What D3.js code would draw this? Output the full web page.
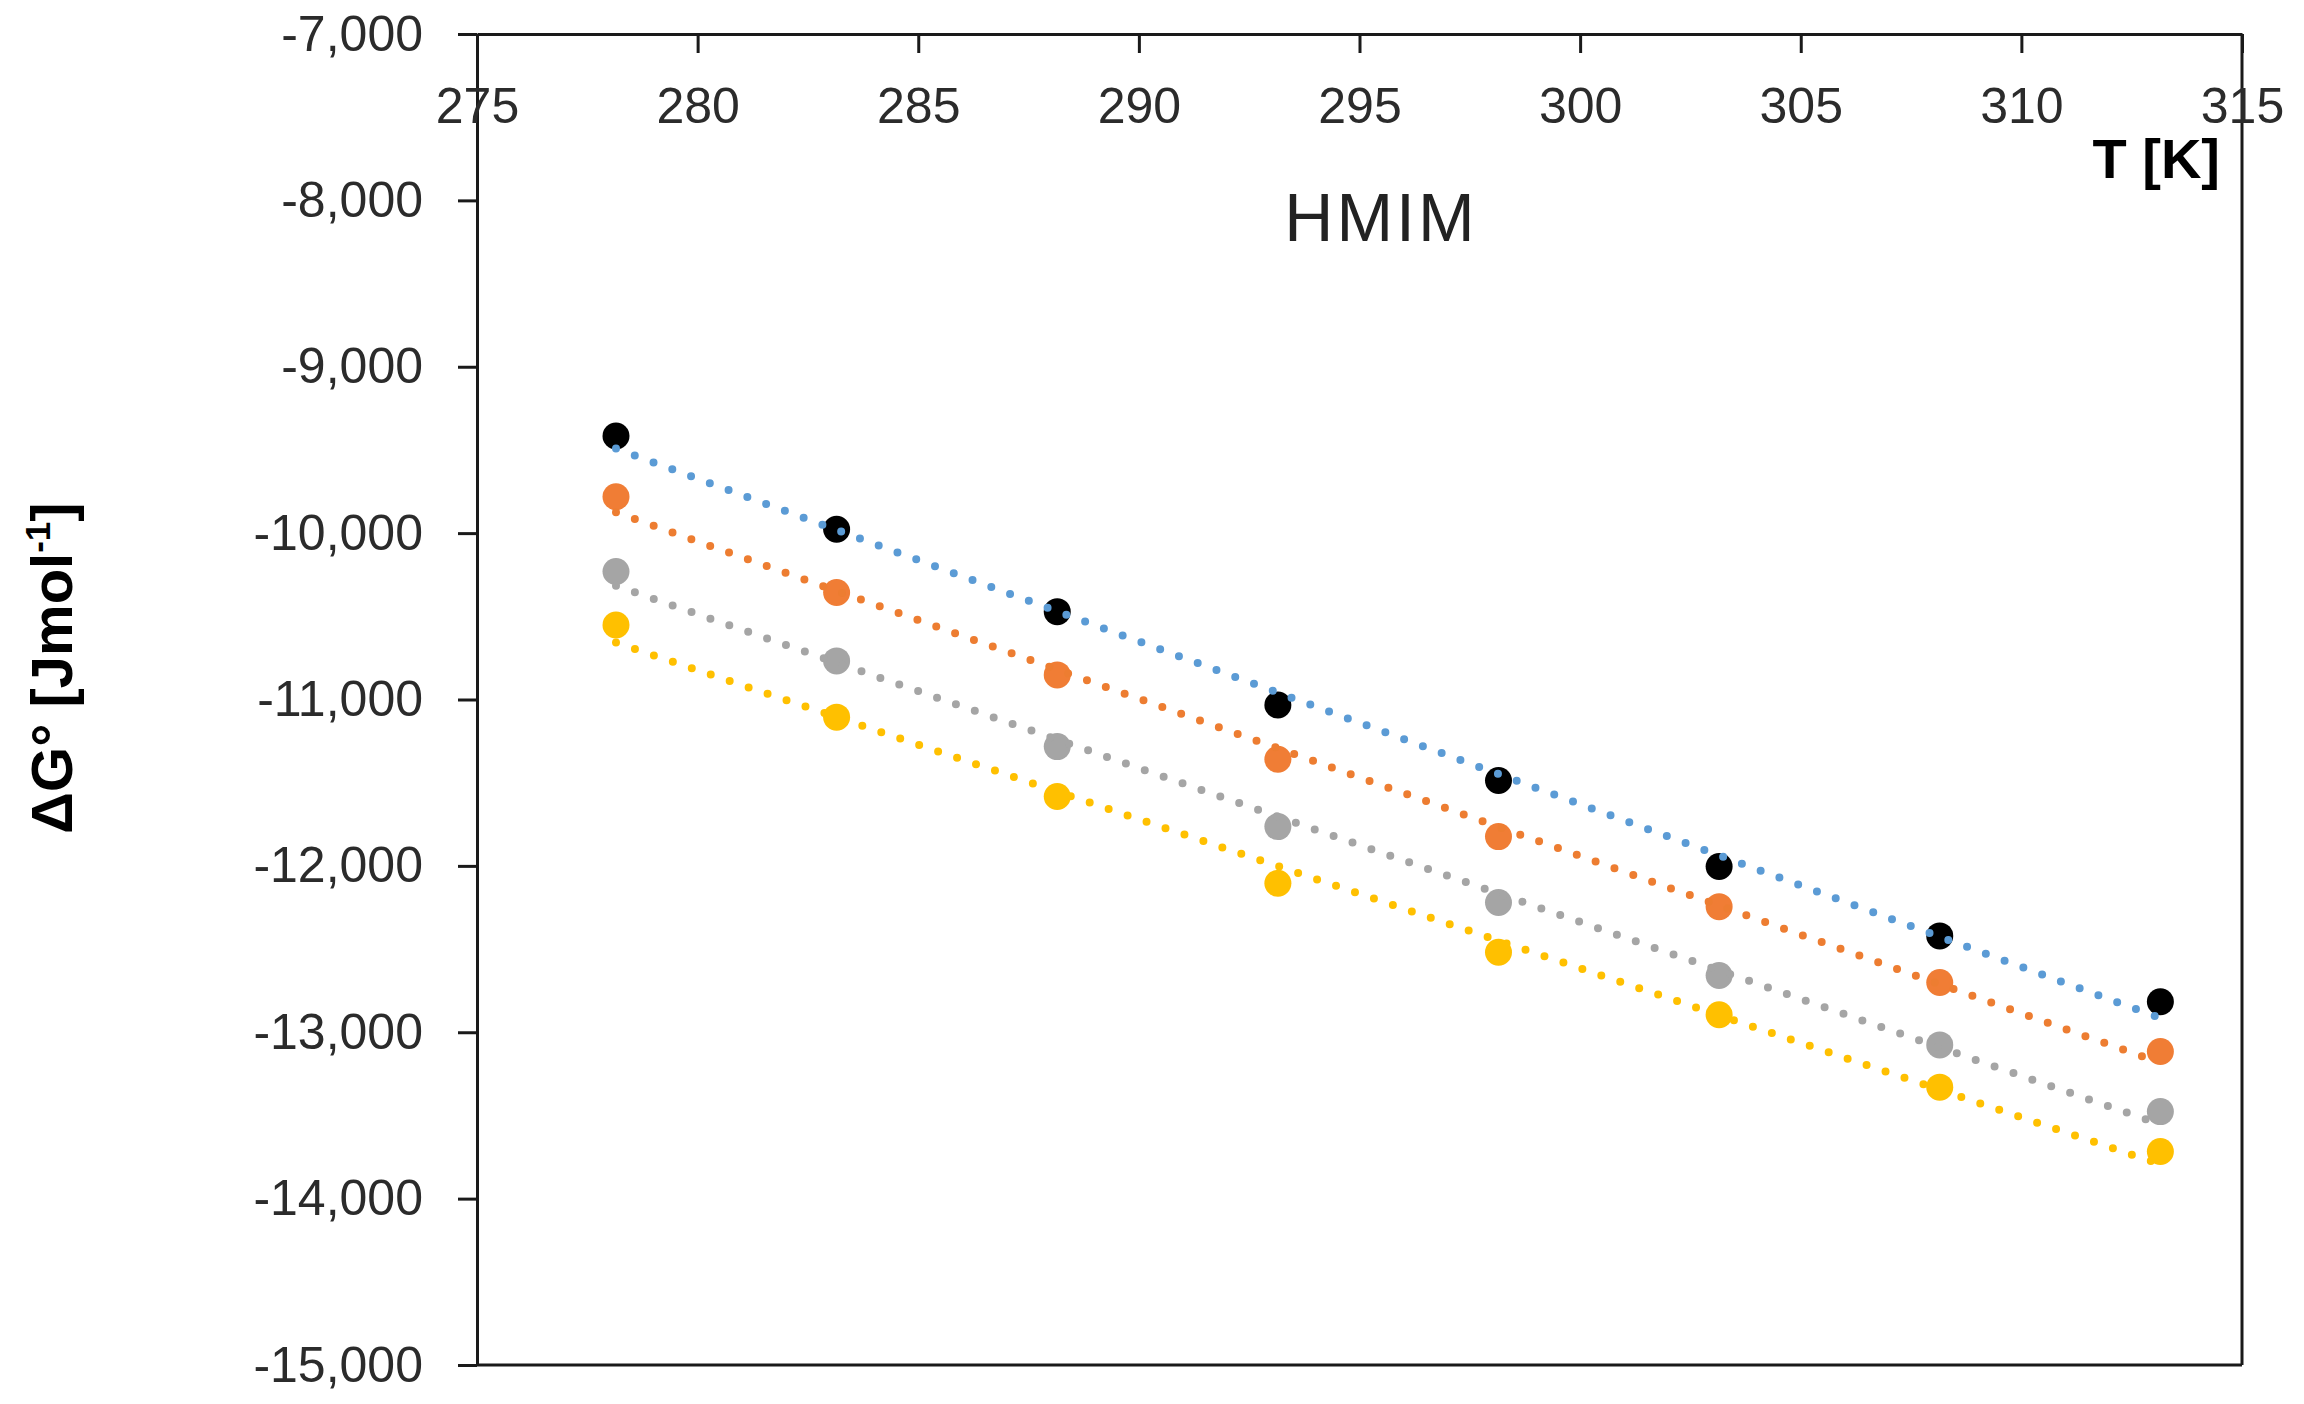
<!DOCTYPE html>
<html lang="en">
<head>
    <meta charset="UTF-8">
    <title>HMIM - ΔG° vs T</title>
    <script src="https://cdnjs.cloudflare.com/ajax/libs/d3/7.8.5/d3.min.js"></script>
    <style>
        body {
            margin: 0;
            padding: 0;
            background-color: #ffffff;
        }
        #chart svg {
            display: block;
        }
        .axis path, .axis line {
            stroke: #1a1a1a;
            stroke-width: 3px;
        }
        .axis text {
            font-family: 'Liberation Sans', Arial, sans-serif;
            font-size: 50px;
            fill: #2b2b2b;
        }
        .trend {
            fill: none;
            stroke-width: 8px;
            stroke-linecap: round;
            stroke-dasharray: 0 20;
        }
    </style>
</head>
<body>
    <div id="chart"></div>

    <script>
        // Temperatures (K) and ΔG° values (J/mol)
        const temperatures = [278.15, 283.15, 288.15, 293.15, 298.15, 303.15, 308.15, 313.15];
        const seriesA = [-9416, -9977, -10472, -11033, -11487, -12004, -12421, -12817];
        const seriesB = [-9781, -10357, -10852, -11359, -11824, -12245, -12701, -13116];
        const seriesC = [-10231, -10768, -11283, -11764, -12220, -12659, -13076, -13477];
        const seriesD = [-10552, -11106, -11583, -12104, -12519, -12895, -13330, -13717];

        const xTicks = [275, 280, 285, 290, 295, 300, 305, 310, 315];
        const yTicks = [-7000, -8000, -9000, -10000, -11000, -12000, -13000, -14000, -15000];

        const allSeries = [seriesA, seriesB, seriesC, seriesD];
        const markerColors = ["#000000", "#F07D35", "#A5A5A5", "#FFC000"];
        const trendColors = ["#5B9BD5", "#ED7D31", "#A5A5A5", "#FFC000"];

        const width = 2304;
        const height = 1404;
        const margin = {top: 34, right: 62, bottom: 39, left: 477};

        const svg = d3.select("#chart")
            .append("svg")
            .attr("width", width)
            .attr("height", height);

        const x = d3.scaleLinear()
            .domain([275, 315])
            .range([margin.left, width - margin.right]);

        const y = d3.scaleLinear()
            .domain([-15000, -7000])
            .range([height - margin.bottom, margin.top]);

        const fmt = d => (d < 0 ? "-" : "") + d3.format(",")(Math.abs(d));

        // plot border (right and bottom)
        svg.append("line")
            .attr("x1", x(315)).attr("x2", x(315))
            .attr("y1", y(-7000)).attr("y2", y(-15000))
            .attr("stroke", "#1a1a1a").attr("stroke-width", 3);
        svg.append("line")
            .attr("x1", x(275)).attr("x2", x(315))
            .attr("y1", y(-15000)).attr("y2", y(-15000))
            .attr("stroke", "#1a1a1a").attr("stroke-width", 3);

        // y axis (left, ticks outside)
        svg.append("g")
            .attr("class", "axis")
            .attr("transform", `translate(${x(275)},0)`)
            .call(d3.axisLeft(y).tickValues(yTicks).tickFormat(fmt).tickSize(19).tickPadding(35).tickSizeOuter(0));

        // x axis along the top, ticks and labels inside the plot
        svg.append("g")
            .attr("class", "axis")
            .attr("transform", `translate(0,${y(-7000)})`)
            .call(d3.axisBottom(x).tickValues(xTicks).tickSize(19).tickPadding(34).tickSizeOuter(0));

        // markers
        allSeries.forEach((vals, i) => {
            svg.append("g")
                .selectAll("circle")
                .data(vals.map((v, j) => ({t: temperatures[j], v: v})))
                .enter().append("circle")
                .attr("cx", d => x(d.t))
                .attr("cy", d => y(d.v))
                .attr("r", 13.5)
                .attr("fill", markerColors[i]);
        });

        // linear trendlines (least squares fit of each series)
        allSeries.forEach((vals, i) => {
            const mt = d3.mean(temperatures);
            const mv = d3.mean(vals);
            const slope = d3.sum(temperatures, (t, j) => (t - mt) * (vals[j] - mv)) /
                          d3.sum(temperatures, t => (t - mt) * (t - mt));
            const ends = [temperatures[0], temperatures[temperatures.length - 1]];
            svg.append("path")
                .attr("class", "trend")
                .attr("stroke", trendColors[i])
                .attr("d", d3.line()
                    .x(t => x(t))
                    .y(t => y(mv + slope * (t - mt)))(ends));
        });

        // titles
        svg.append("text")
            .attr("x", 1381)
            .attr("y", 241)
            .attr("text-anchor", "middle")
            .style("font-family", "'Liberation Sans', Arial, sans-serif")
            .style("font-size", "68px")
            .style("letter-spacing", "3px")
            .style("fill", "#222")
            .text("HMIM");

        svg.append("text")
            .attr("x", 2220)
            .attr("y", 178)
            .attr("text-anchor", "end")
            .style("font-family", "'Liberation Sans', Arial, sans-serif")
            .style("font-weight", "bold")
            .style("font-size", "56px")
            .style("fill", "#000")
            .text("T [K]");

        const yTitle = svg.append("text")
            .attr("transform", "translate(72,668) rotate(-90)")
            .attr("text-anchor", "middle")
            .style("font-family", "'Liberation Sans', Arial, sans-serif")
            .style("font-weight", "bold")
            .style("font-size", "58px")
            .style("fill", "#000");
        yTitle.append("tspan").text("ΔG° [Jmol");
        yTitle.append("tspan").attr("dy", -22).style("font-size", "35px").text("-1");
        yTitle.append("tspan").attr("dy", 22).text("]");
    </script>
</body>
</html>
